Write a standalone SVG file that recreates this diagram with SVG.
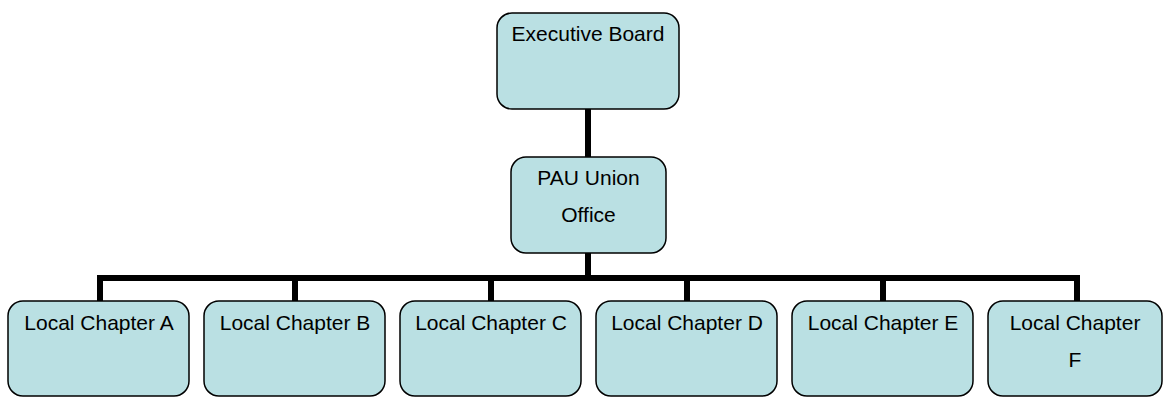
<svg xmlns="http://www.w3.org/2000/svg" width="1171" height="397" viewBox="0 0 1171 397">
  <style>
    .box { fill: #BAE0E3; stroke: #000; stroke-width: 1.5; }
    .lbl { font-family: "Liberation Sans", Arial, sans-serif; font-size: 21px; fill: #000; text-anchor: middle; }
    .wire { fill: none; stroke: #000; stroke-width: 6; stroke-linecap: butt; stroke-linejoin: miter; }
  </style>
  <rect width="1171" height="397" fill="#fff"/>

  <!-- connectors -->
  <g id="connectors">
    <line class="wire" x1="588" y1="109" x2="588" y2="157"/>
    <line class="wire" x1="588" y1="253" x2="588" y2="278"/>
    <path class="wire" d="M100 301 V278 H1077 V301"/>
    <line class="wire" x1="295" y1="278" x2="295" y2="301"/>
    <line class="wire" x1="491" y1="278" x2="491" y2="301"/>
    <line class="wire" x1="687" y1="278" x2="687" y2="301"/>
    <line class="wire" x1="883" y1="278" x2="883" y2="301"/>
  </g>

  <g id="executive-board">
    <rect class="box" x="497" y="13" width="182" height="96" rx="15"/>
    <text class="lbl" x="588" y="41">Executive Board</text>
  </g>

  <g id="pau-union-office">
    <rect class="box" x="511" y="157" width="155" height="96" rx="15"/>
    <text class="lbl" x="588.5" y="185">PAU Union</text>
    <text class="lbl" x="588.5" y="222">Office</text>
  </g>

  <g id="chapter-a">
    <rect class="box" x="8" y="301" width="181" height="95" rx="15"/>
    <text class="lbl" x="99" y="330">Local Chapter A</text>
  </g>
  <g id="chapter-b">
    <rect class="box" x="204" y="301" width="181" height="95" rx="15"/>
    <text class="lbl" x="295" y="330">Local Chapter B</text>
  </g>
  <g id="chapter-c">
    <rect class="box" x="400" y="301" width="181" height="95" rx="15"/>
    <text class="lbl" x="491" y="330">Local Chapter C</text>
  </g>
  <g id="chapter-d">
    <rect class="box" x="596" y="301" width="181" height="95" rx="15"/>
    <text class="lbl" x="687" y="330">Local Chapter D</text>
  </g>
  <g id="chapter-e">
    <rect class="box" x="792" y="301" width="181" height="95" rx="15"/>
    <text class="lbl" x="883" y="330">Local Chapter E</text>
  </g>
  <g id="chapter-f">
    <rect class="box" x="988" y="301" width="174" height="95" rx="15"/>
    <text class="lbl" x="1075" y="330">Local Chapter</text>
    <text class="lbl" x="1075" y="367">F</text>
  </g>
</svg>
